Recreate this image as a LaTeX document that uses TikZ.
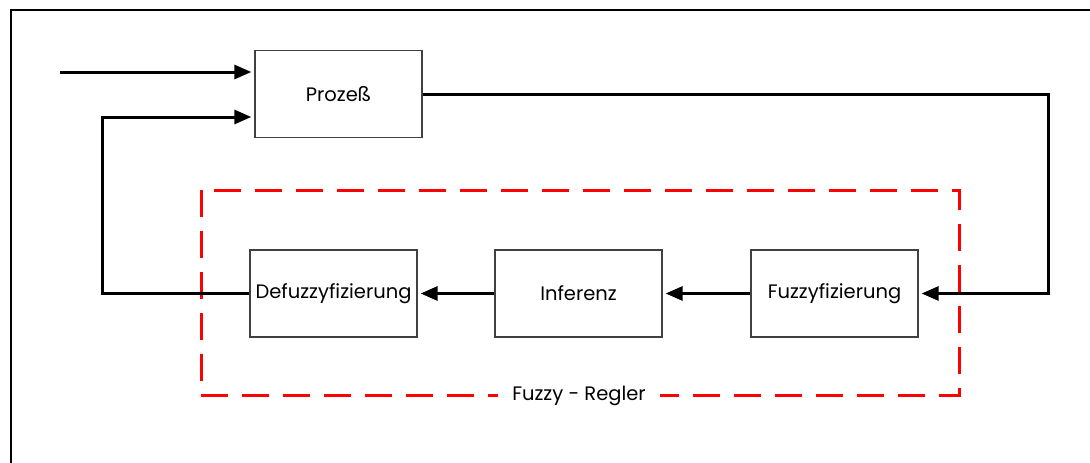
\documentclass[tikz,border=0pt]{standalone}
\usepackage{fontspec}
\setmainfont{Poppins}
\usetikzlibrary{arrows.meta}
\begin{document}
\begin{tikzpicture}[x=1pt,y=-1pt,
  blockbox/.style={draw=black!75,line width=1.3pt,minimum width=167pt,minimum height=87pt,inner sep=0pt,font=\fontsize{19.5}{22}\selectfont},
  conn/.style={line width=3pt,line join=miter},
  arr/.style={conn,-{Triangle[length=17pt,width=14pt]},shorten >=3pt},
  frame/.style={line width=2.4pt,line cap=rect},
  groupbox/.style={draw=red,line width=3pt,dash pattern=on 27pt off 14pt}
]
\useasboundingbox (0,0) rectangle (1090,463);
\draw[frame] (11,463) -- (11,10) -- (1090,10);
\node[blockbox] (P) at (338.5,94) {Prozeß};
\node[blockbox] (D) at (333.5,293.5) {Defuzzyfizierung};
\node[blockbox] (I) at (578.5,293.5) {Inferenz};
\node[blockbox] (F) at (834.5,293.5) {Fuzzyfizierung};
\draw[groupbox] (201,190) rectangle (959,395);
\node[fill=white,inner xsep=14pt,inner ysep=2pt,font=\fontsize{19.5}{22}\selectfont] (L) at (579,396) {Fuzzy - Regler};
\coordinate (in) at (60,72);
\coordinate (fb) at (102,117);
\coordinate (out) at (1048,94);
\draw[arr] (in) -- (in -| P.west);
\draw[arr] (D.west) -| (fb) -- (fb -| P.west);
\draw[arr] (P.east |- out) -- (out) |- (F.east);
\draw[arr] (F.west) -- (I.east);
\draw[arr] (I.west) -- (D.east);
\end{tikzpicture}
\end{document}
